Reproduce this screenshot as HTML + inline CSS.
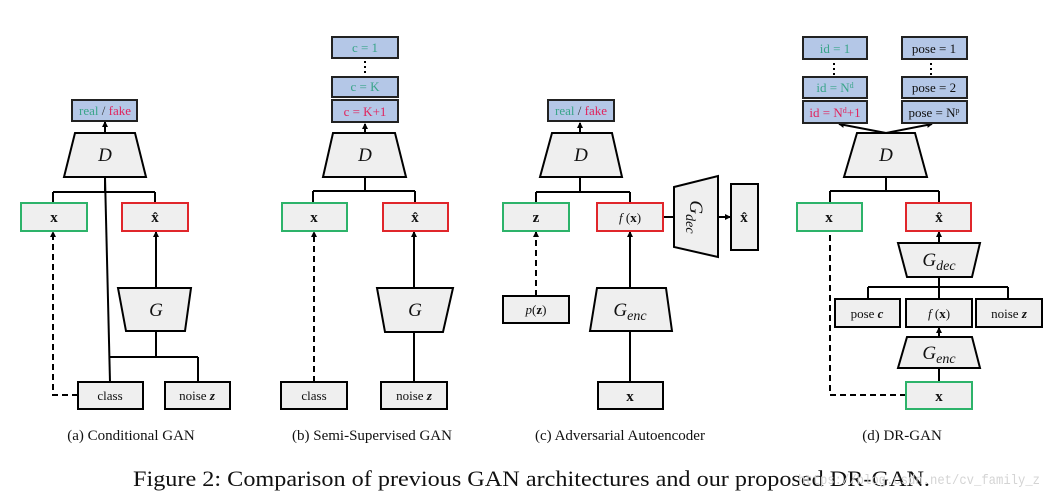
<!DOCTYPE html>
<html><head><meta charset="utf-8"><style>
html,body{margin:0;padding:0;background:#fff;}
svg{display:block;}
text{font-family:"Liberation Serif",serif;}
</style></head><body>
<svg width="1051" height="497" viewBox="0 0 1051 497" xmlns="http://www.w3.org/2000/svg">
<defs>
<marker id="ar" markerWidth="6" markerHeight="6" refX="5" refY="3" orient="auto" markerUnits="userSpaceOnUse"><path d="M0,0 L6,3 L0,6 z" fill="#000"/></marker>
</defs>
<g stroke="#000" stroke-width="2" fill="none">
<!-- (a) -->
<line x1="105" y1="177" x2="105" y2="192"/>
<line x1="53" y1="192" x2="155" y2="192"/>
<line x1="53" y1="192" x2="53" y2="203"/>
<line x1="155" y1="192" x2="155" y2="203"/>
<line x1="105" y1="177" x2="110" y2="382"/>
<line x1="105" y1="133" x2="105" y2="122" marker-end="url(#ar)"/>
<line x1="156" y1="288" x2="156" y2="232" marker-end="url(#ar)"/>
<line x1="156" y1="331" x2="156" y2="357"/>
<line x1="110" y1="357" x2="198" y2="357"/>
<line x1="198" y1="357" x2="198" y2="382"/>
<polyline points="78,395 53,395 53,232" stroke-dasharray="6,4" marker-end="url(#ar)"/>
<!-- (b) -->
<line x1="365" y1="177" x2="365" y2="191"/>
<line x1="313" y1="191" x2="415" y2="191"/>
<line x1="313" y1="191" x2="313" y2="203"/>
<line x1="415" y1="191" x2="415" y2="203"/>
<line x1="365" y1="133" x2="365" y2="124" marker-end="url(#ar)"/>
<line x1="414" y1="288" x2="414" y2="232" marker-end="url(#ar)"/>
<line x1="414" y1="332" x2="414" y2="382"/>
<line x1="314" y1="382" x2="314" y2="232" stroke-dasharray="6,4" marker-end="url(#ar)"/>
<!-- (c) -->
<line x1="580" y1="177" x2="580" y2="192"/>
<line x1="536" y1="192" x2="630" y2="192"/>
<line x1="536" y1="192" x2="536" y2="203"/>
<line x1="630" y1="192" x2="630" y2="203"/>
<line x1="580" y1="133" x2="580" y2="123" marker-end="url(#ar)"/>
<line x1="663" y1="217" x2="674" y2="217"/>
<line x1="718" y1="217" x2="730" y2="217" marker-end="url(#ar)"/>
<line x1="536" y1="296" x2="536" y2="232" stroke-dasharray="6,4" marker-end="url(#ar)"/>
<line x1="630" y1="288" x2="630" y2="232" marker-end="url(#ar)"/>
<line x1="630" y1="331" x2="630" y2="382"/>
<!-- (d) -->
<line x1="886" y1="133" x2="839" y2="124" marker-end="url(#ar)"/>
<line x1="886" y1="133" x2="932" y2="124" marker-end="url(#ar)"/>
<line x1="886" y1="177" x2="886" y2="191"/>
<line x1="830" y1="191" x2="939" y2="191"/>
<line x1="830" y1="191" x2="830" y2="203"/>
<line x1="939" y1="191" x2="939" y2="203"/>
<line x1="939" y1="243" x2="939" y2="232" marker-end="url(#ar)"/>
<line x1="939" y1="277" x2="939" y2="299"/>
<line x1="868" y1="287" x2="1008" y2="287"/>
<line x1="868" y1="287" x2="868" y2="299"/>
<line x1="1008" y1="287" x2="1008" y2="299"/>
<line x1="939" y1="337" x2="939" y2="328" marker-end="url(#ar)"/>
<line x1="939" y1="368" x2="939" y2="382"/>
<polyline points="906,395 830,395 830,231" stroke-dasharray="6,4"/>
</g>
<g stroke="#000" stroke-width="2" stroke-dasharray="2,3">
<line x1="365" y1="61" x2="365" y2="74"/>
<line x1="834" y1="63" x2="834" y2="75"/>
<line x1="931" y1="63" x2="931" y2="75"/>
</g>
<g fill="#b4c7e7" stroke="#222" stroke-width="2">
<rect x="72" y="100" width="65" height="21"/>
<rect x="548" y="100" width="66" height="21"/>
<rect x="332" y="37" width="66" height="21"/>
<rect x="332" y="77" width="66" height="20"/>
<rect x="332" y="100" width="66" height="22"/>
<rect x="803" y="37" width="64" height="22"/>
<rect x="803" y="77" width="64" height="21"/>
<rect x="803" y="101" width="64" height="22"/>
<rect x="902" y="37" width="65" height="22"/>
<rect x="902" y="77" width="65" height="21"/>
<rect x="902" y="101" width="65" height="22"/>
</g>
<g fill="#efefef" stroke="#000" stroke-width="2">
<polygon points="75,133 135,133 146,177 64,177"/>
<polygon points="333,133 395,133 406,177 323,177"/>
<polygon points="552,133 612,133 622,177 540,177"/>
<polygon points="857,133 915,133 927,177 844,177"/>
<polygon points="118,288 191,288 185,331 126,331"/>
<polygon points="377,288 453,288 443,332 385,332"/>
<polygon points="674,187 718,176 718,257 674,247"/>
<polygon points="597,288 666,288 672,331 590,331"/>
<polygon points="898,243 980,243 972,277 907,277"/>
<polygon points="907,337 972,337 980,368 898,368"/>
<rect x="78" y="382" width="65" height="27"/>
<rect x="165" y="382" width="65" height="27"/>
<rect x="281" y="382" width="66" height="27"/>
<rect x="381" y="382" width="66" height="27"/>
<rect x="503" y="296" width="66" height="27"/>
<rect x="598" y="382" width="65" height="27"/>
<rect x="731" y="184" width="27" height="66"/>
<rect x="835" y="299" width="65" height="28"/>
<rect x="906" y="299" width="66" height="28"/>
<rect x="976" y="299" width="66" height="28"/>
</g>
<g fill="#efefef" stroke-width="2">
<rect x="21" y="203" width="66" height="28" stroke="#2db36a"/>
<rect x="282" y="203" width="65" height="28" stroke="#2db36a"/>
<rect x="503" y="203" width="66" height="28" stroke="#2db36a"/>
<rect x="797" y="203" width="65" height="28" stroke="#2db36a"/>
<rect x="906" y="382" width="66" height="27" stroke="#2db36a"/>
<rect x="122" y="203" width="66" height="28" stroke="#e0262b"/>
<rect x="383" y="203" width="65" height="28" stroke="#e0262b"/>
<rect x="597" y="203" width="66" height="28" stroke="#e0262b"/>
<rect x="906" y="203" width="65" height="28" stroke="#e0262b"/>
</g>
<g font-size="13" text-anchor="middle">
<text x="105" y="115"><tspan fill="#3aa58a">real</tspan><tspan fill="#333"> / </tspan><tspan fill="#e0245e">fake</tspan></text>
<text x="581" y="115"><tspan fill="#3aa58a">real</tspan><tspan fill="#333"> / </tspan><tspan fill="#e0245e">fake</tspan></text>
<text x="365" y="52" fill="#3aa58a">c = 1</text>
<text x="365" y="91" fill="#3aa58a">c = K</text>
<text x="365" y="116" fill="#e0245e">c = K+1</text>
<text x="835" y="53" fill="#3aa58a">id = 1</text>
<text x="835" y="92" fill="#3aa58a">id = N<tspan font-size="8" dy="-4">d</tspan></text>
<text x="835" y="117" fill="#e0245e">id = N<tspan font-size="8" dy="-4">d</tspan><tspan dy="4">+1</tspan></text>
<text x="934" y="53" fill="#111">pose = 1</text>
<text x="934" y="92" fill="#111">pose = 2</text>
<text x="934" y="117" fill="#111">pose = N<tspan font-size="8" dy="-4">p</tspan></text>
<text x="110" y="400" fill="#111">class</text>
<text x="197" y="400" fill="#111">noise <tspan font-weight="bold" font-style="italic">z</tspan></text>
<text x="314" y="400" fill="#111">class</text>
<text x="414" y="400" fill="#111">noise <tspan font-weight="bold" font-style="italic">z</tspan></text>
<text x="867" y="318" fill="#111">pose <tspan font-weight="bold" font-style="italic">c</tspan></text>
<text x="1009" y="318" fill="#111">noise <tspan font-weight="bold" font-style="italic">z</tspan></text>
<text x="939" y="318" fill="#111"><tspan font-style="italic">f</tspan> (<tspan font-weight="bold">x</tspan>)</text>
<text x="630" y="222" fill="#111"><tspan font-style="italic">f</tspan> (<tspan font-weight="bold">x</tspan>)</text>
<text x="536" y="314" fill="#111"><tspan font-style="italic">p</tspan>(<tspan font-weight="bold">z</tspan>)</text>
</g>
<g font-size="15" font-weight="bold" text-anchor="middle" fill="#111">
<text x="54" y="222">x</text>
<text x="155" y="222">x̂</text>
<text x="314" y="222">x</text>
<text x="415" y="222">x̂</text>
<text x="536" y="222">z</text>
<text x="744" y="222">x̂</text>
<text x="630" y="401">x</text>
<text x="829" y="222">x</text>
<text x="939" y="222">x̂</text>
<text x="939" y="401">x</text>
</g>
<g font-size="19" font-style="italic" text-anchor="middle" fill="#111">
<text x="105" y="161">D</text>
<text x="365" y="161">D</text>
<text x="581" y="161">D</text>
<text x="886" y="161">D</text>
<text x="156" y="316">G</text>
<text x="415" y="316">G</text>
<text x="630" y="316">G<tspan font-size="14" dy="4">enc</tspan></text>
<text x="939" y="266">G<tspan font-size="14" dy="4">dec</tspan></text>
<text x="939" y="359">G<tspan font-size="14" dy="4">enc</tspan></text>
<text x="0" y="0" transform="translate(690,217) rotate(90)" text-anchor="middle">G<tspan font-size="14" dy="4">dec</tspan></text>
</g>
<g font-size="15" text-anchor="middle" fill="#111">
<text x="131" y="440">(a) Conditional GAN</text>
<text x="372" y="440">(b) Semi-Supervised GAN</text>
<text x="620" y="440">(c) Adversarial Autoencoder</text>
<text x="902" y="440">(d) DR-GAN</text>
</g>
<text x="133" y="486" font-size="22" fill="#111" textLength="797" lengthAdjust="spacingAndGlyphs">Figure 2: Comparison of previous GAN architectures and our proposed DR-GAN.</text>
<text x="798" y="484" font-size="14" fill="#d4d4d4" style="font-family:'Liberation Mono',monospace" textLength="242" lengthAdjust="spacingAndGlyphs">https://blog.csdn.net/cv_family_z</text>
</svg>
</body></html>
